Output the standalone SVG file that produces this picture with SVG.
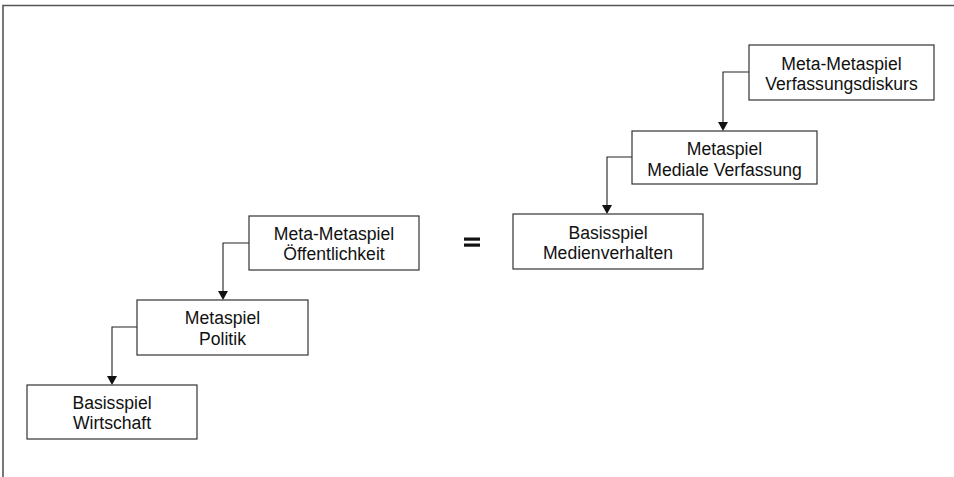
<svg xmlns="http://www.w3.org/2000/svg" width="954" height="477" viewBox="0 0 954 477">
<style>
.box{fill:#fff;stroke:#333;stroke-width:1.2}
.t{font-family:"Liberation Sans",Arial,sans-serif;font-size:17.6px;fill:#111;text-anchor:middle}
.c{fill:none;stroke:#222;stroke-width:1.1}
</style>
<defs>
<marker id="ah" markerWidth="10" markerHeight="9" refX="5" refY="9" orient="auto-start-reverse" markerUnits="userSpaceOnUse" viewBox="0 0 10 9">
<path d="M0,0 L10,0 L5,9 Z" fill="#111" transform="rotate(0)"/>
</marker>
</defs>
<rect width="954" height="477" fill="#fff"/>
<g id="frame" fill="none" stroke="#555" stroke-width="1.6">
<path d="M3,477 L3,5.5 L954,5.5"/>
</g>
<g id="connectors">
<path class="c" d="M749,72 H723 V122"/>
<path class="c" d="M632,157 H607 V205"/>
<path class="c" d="M249,243 H223 V291"/>
<path class="c" d="M137,327 H112 V376"/>
<path d="M718,122 L728,122 L723,131 Z" fill="#111"/>
<path d="M602,205 L612,205 L607,214 Z" fill="#111"/>
<path d="M218,291 L228,291 L223,300 Z" fill="#111"/>
<path d="M107,376 L117,376 L112,385 Z" fill="#111"/>
</g>
<g id="mm-right">
<rect class="box" x="749" y="45" width="185" height="55"/>
<text class="t" x="841.5" y="69.5">Meta-Metaspiel</text>
<text class="t" x="841.5" y="90">Verfassungsdiskurs</text>
</g>
<g id="meta-right">
<rect class="box" x="632" y="131" width="185" height="53"/>
<text class="t" x="724.5" y="155">Metaspiel</text>
<text class="t" x="724.5" y="175.5">Mediale Verfassung</text>
</g>
<g id="basis-right">
<rect class="box" x="513" y="214" width="190" height="55"/>
<text class="t" x="608" y="238.5">Basisspiel</text>
<text class="t" x="608" y="259">Medienverhalten</text>
</g>
<g id="mm-left">
<rect class="box" x="249" y="216" width="170" height="54"/>
<text class="t" x="334" y="239.5">Meta-Metaspiel</text>
<text class="t" x="334" y="260">Öffentlichkeit</text>
</g>
<g id="meta-left">
<rect class="box" x="137" y="300" width="171" height="55"/>
<text class="t" x="222.5" y="324">Metaspiel</text>
<text class="t" x="222.5" y="344.5">Politik</text>
</g>
<g id="basis-left">
<rect class="box" x="27" y="385" width="170" height="54"/>
<text class="t" x="112" y="408.5">Basisspiel</text>
<text class="t" x="112" y="429">Wirtschaft</text>
</g>
<g id="equals" fill="#111">
<rect x="464" y="237.5" width="16" height="3.2"/>
<rect x="464" y="243.5" width="16" height="3.2"/>
</g>
</svg>
